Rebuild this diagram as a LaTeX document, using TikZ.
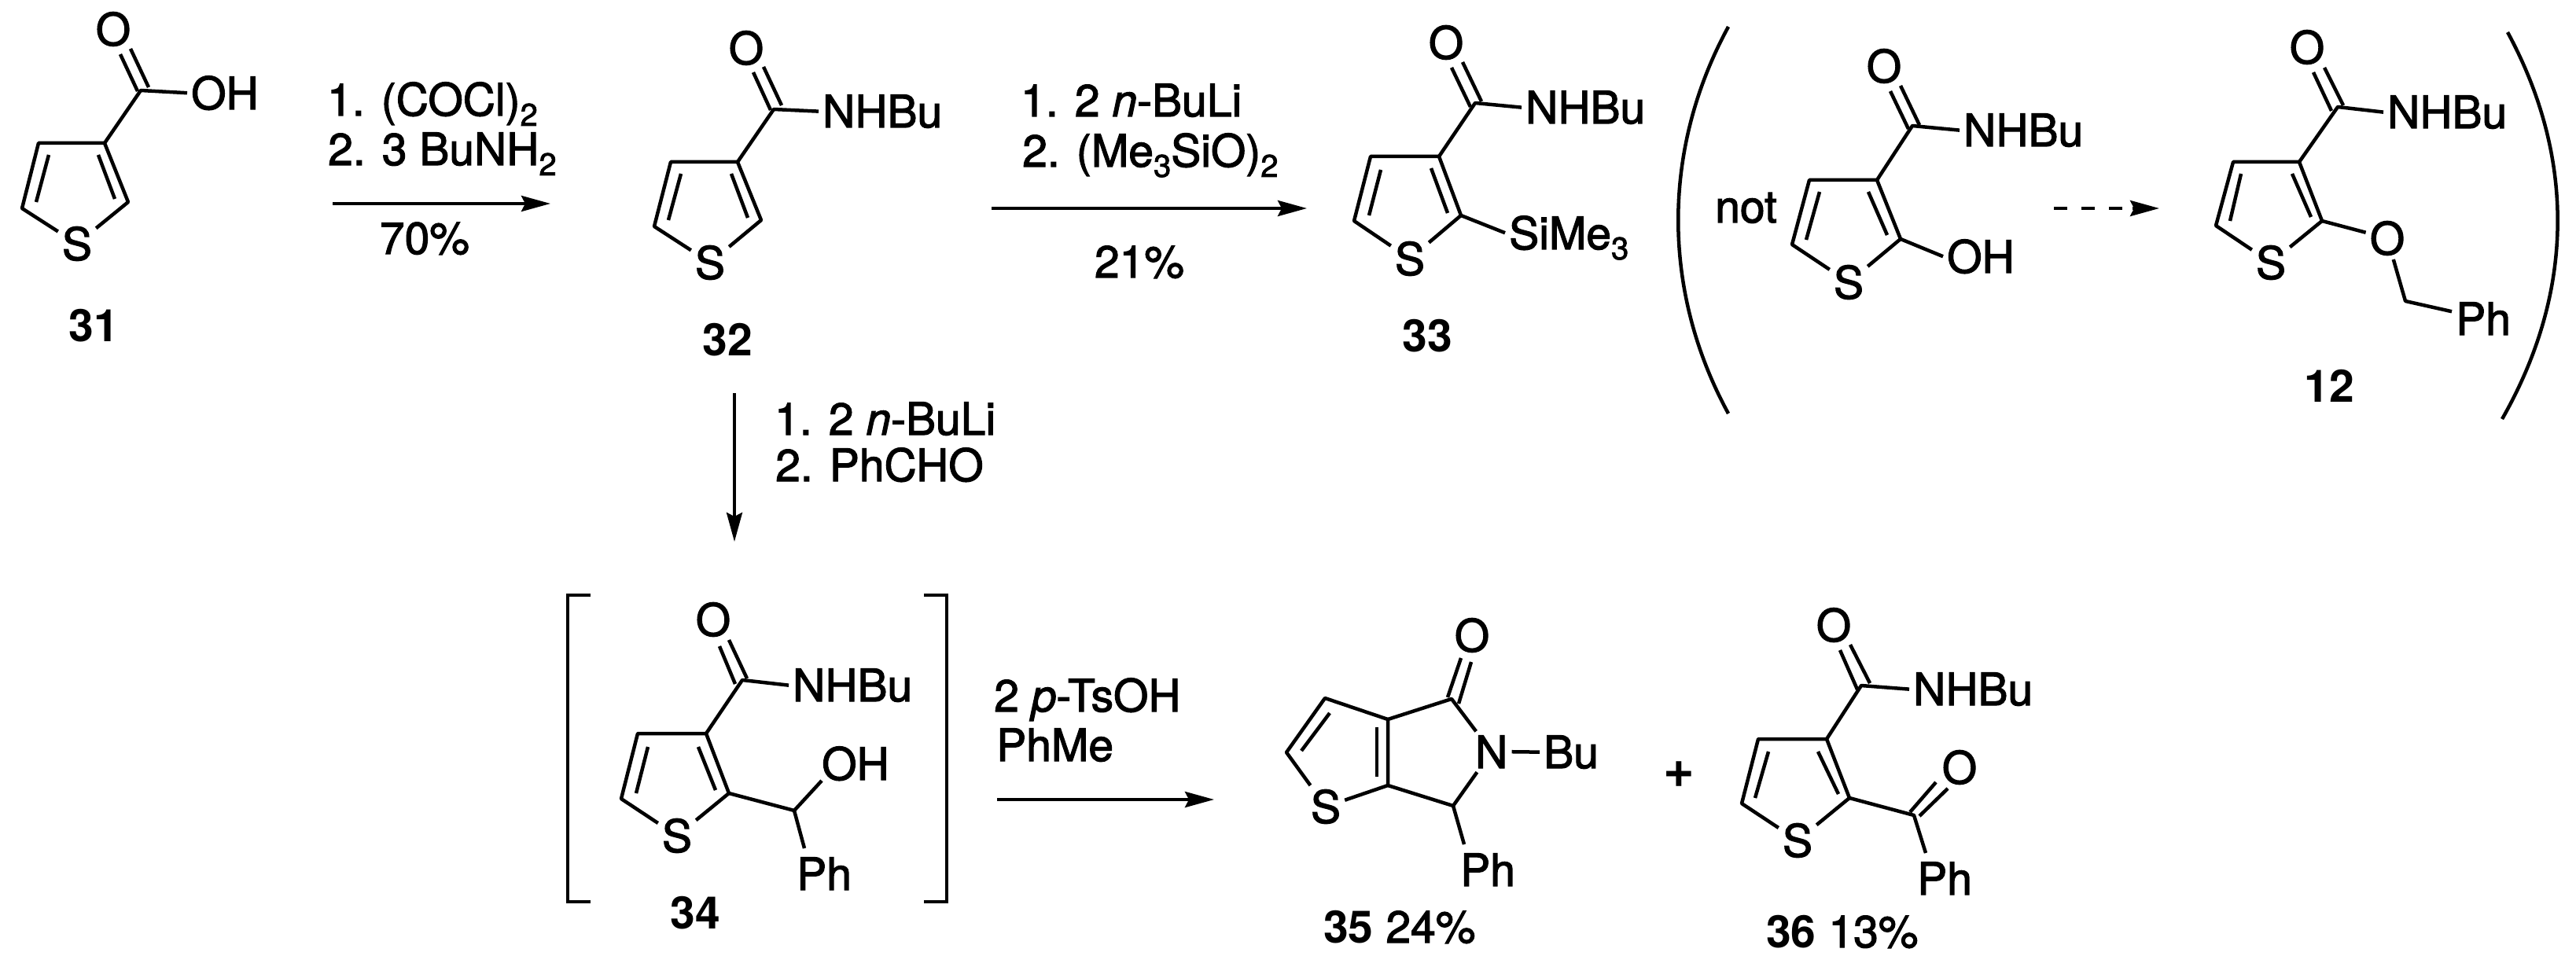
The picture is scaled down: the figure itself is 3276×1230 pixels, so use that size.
\documentclass[tikz,border=0pt]{standalone}
\usepackage{fontspec}
\setmainfont{TeX Gyre Heros}[UprightFeatures={FakeBold=2},ItalicFeatures={FakeBold=2}]
\usetikzlibrary{arrows.meta}
\newcommand\sbs[1]{\raisebox{-13pt}[0pt][0pt]{\fontsize{40}{40}\selectfont #1}}
% named point
\newcommand\pnt[3]{\coordinate (#1) at (#2,#3);}
% thiophene ring: coordinates p3 p4 p5 p2, inner bond ends pla plb pra prb, node pS
\newcommand\thio[1]{%
  \draw[bond] (#1S) -- (#15) -- (#14) -- (#13) -- (#12) -- (#1S);
  \draw[bond] (#1la) -- (#1lb);
  \draw[bond] (#1ra) -- (#1rb);}
\newcommand\dbl[2]{%
  \draw[bond] (#1a) -- (#1b);
  \draw[bond] (#1c) -- (#1d);}
\tikzset{
  x=1pt,y=-1pt,
  bond/.style={line width=4.5pt,line join=round,line cap=butt},
  arrowline/.style={line width=4pt,-{Stealth[length=37pt,width=20pt,inset=5pt]}},
  atom/.style={inner sep=5pt,anchor=center,font=\fontsize{57}{60}\selectfont},
  lbl/.style={inner sep=5pt,anchor=base west,font=\fontsize{57}{60}\selectfont},
  cpd/.style={inner sep=0pt,anchor=base,font=\fontsize{57}{60}\selectfont\bfseries},
}
\begin{document}
\begin{tikzpicture}
\useasboundingbox (0,0) rectangle (3276,1230);
% ---------- 31
\pnt{a3}{133}{182}\pnt{a4}{49}{182}\pnt{a5}{28}{265}\pnt{a2}{163}{257}
\pnt{ala}{62}{197}\pnt{alb}{46}{257}\pnt{ara}{125}{197}\pnt{arb}{146}{253}
\pnt{ac}{179}{115}
\pnt{aoa}{153}{69}\pnt{aob}{175}{116}\pnt{aoc}{166}{62}\pnt{aod}{189}{111}
\node[atom] (aS) at (98,310) {S};
\node[atom] (aO) at (144,37) {O};
\node[lbl] (aOH) at (238,139) {OH};
\node[cpd] (l31) at (119,434) {31};
\thio{a}\dbl{ao}{}
\draw[bond] (a3) -- (ac) -- (aOH.west);
% arrow 31->32
\pnt{r1s}{423}{259}\pnt{r1e}{700}{259}
\draw[arrowline] (r1s) -- (r1e);
\node[lbl] (r1t) at (411,147) {1. (COCl)\sbs{2}};
\node[lbl] (r1u) at (412,210) {2. 3 BuNH\sbs{2}};
\node[cpd,font=\fontsize{57}{60}\selectfont] (r1y) at (540,323) {70\%};
% ---------- 32
\pnt{b3}{938}{206}\pnt{b4}{853}{206}\pnt{b5}{832}{288}\pnt{b2}{968}{280}
\pnt{bla}{866}{221}\pnt{blb}{850}{280}\pnt{bra}{930}{221}\pnt{brb}{951}{277}
\pnt{bc}{984}{139}
\pnt{boa}{958}{92}\pnt{bob}{980}{140}\pnt{boc}{971}{85}\pnt{bod}{994}{134}
\node[atom] (bS) at (903,334) {S};
\node[atom] (bO) at (949,61) {O};
\node[lbl] (bNH) at (1041,162) {NHBu};
\node[cpd] (l32) at (925,452) {32};
\thio{b}\dbl{bo}{}
\draw[bond] (b3) -- (bc) -- (bNH.west);
% arrow 32->33
\pnt{r2s}{1261}{265}\pnt{r2e}{1662}{265}
\draw[arrowline] (r2s) -- (r2e);
\node[lbl] (r2t) at (1293,148) {1. 2 \textit{n}-BuLi};
\node[lbl] (r2u) at (1295,212) {2. (Me\sbs{3}SiO)\sbs{2}};
\node[cpd,font=\fontsize{57}{60}\selectfont] (r2y) at (1449,353) {21\%};
% ---------- 33
\pnt{c3}{1830}{199}\pnt{c4}{1743}{199}\pnt{c5}{1722}{281}\pnt{c2}{1858}{274}
\pnt{cla}{1756}{216}\pnt{clb}{1741}{274}\pnt{cra}{1820}{214}\pnt{crb}{1841}{271}
\pnt{cc}{1876}{131}
\pnt{coa}{1846}{86}\pnt{cob}{1870}{136}\pnt{coc}{1860}{79}\pnt{cod}{1884}{129}
\node[atom] (cS) at (1793,329) {S};
\node[atom] (cO) at (1839,54) {O};
\node[lbl] (cNH) at (1935,157) {NHBu};
\node[lbl] (cSi) at (1914,317) {SiMe\sbs{3}};
\node[cpd] (l33) at (1815,447) {33};
\thio{c}\dbl{co}{}
\draw[bond] (c3) -- (cc) -- (cNH.west);
\draw[bond] (c2) -- (cSi.west);
% ---------- parentheses
\pnt{pla}{2198}{34}\pnt{plb}{2113}{190}\pnt{plc}{2113}{370}\pnt{pld}{2198}{526}
\draw[bond] (pla) .. controls (plb) and (plc) .. (pld);
\pnt{qla}{3189}{41}\pnt{qlb}{3275}{200}\pnt{qlc}{3275}{370}\pnt{qld}{3182}{533}
\draw[bond] (qla) .. controls (qlb) and (qlc) .. (qld);
% ---------- not
\node[lbl] (nott) at (2176,283) {not};
\pnt{d3}{2387}{229}\pnt{d4}{2301}{229}\pnt{d5}{2279}{311}\pnt{d2}{2417}{304}
\pnt{dla}{2314}{244}\pnt{dlb}{2297}{305}\pnt{dra}{2376}{244}\pnt{drb}{2400}{299}
\pnt{dc}{2432}{160}
\pnt{doa}{2404}{116}\pnt{dob}{2427}{164}\pnt{doc}{2417}{109}\pnt{dod}{2441}{159}
\node[atom] (dS) at (2351,359) {S};
\node[atom] (dO) at (2396,84) {O};
\node[lbl] (dNH) at (2492,186) {NHBu};
\node[lbl] (dOH) at (2471,347) {OH};
\thio{d}\dbl{do}{}
\draw[bond] (d3) -- (dc) -- (dNH.west);
\draw[bond] (d2) -- (dOH.west);
% dashed arrow
\pnt{r3s}{2612}{265}\pnt{r3m}{2712}{265}\pnt{r3e}{2746}{265}
\draw[line width=4pt,dash pattern=on 17pt off 18pt] (r3s) -- (r3m);
\draw[line width=4pt,-{Stealth[length=37pt,width=20pt,inset=5pt]}] (r3m) -- (r3e);
% ---------- 12
\pnt{e3}{2924}{206}\pnt{e4}{2840}{206}\pnt{e5}{2818}{287}\pnt{e2}{2953}{281}
\pnt{ela}{2850}{221}\pnt{elb}{2836}{281}\pnt{era}{2915}{221}\pnt{erb}{2939}{276}
\pnt{ec}{2973}{136}
\pnt{eoa}{2942}{92}\pnt{eob}{2965}{141}\pnt{eoc}{2956}{86}\pnt{eod}{2980}{134}
\node[atom] (eS) at (2888,334) {S};
\node[atom] (eO) at (2934,60) {O};
\node[atom] (eL) at (3036,303) {O};
\node[lbl] (eNH) at (3031,163) {NHBu};
\node[lbl] (ePh) at (3118,426) {Ph};
\node[cpd] (l12) at (2962,511) {12};
\pnt{ech}{3059}{383}
\thio{e}\dbl{eo}{}
\draw[bond] (e3) -- (ec) -- (eNH.west);
\draw[bond] (e2) -- (eL) -- (ech) -- (ePh);
% ---------- vertical arrow
\pnt{r4s}{934}{500}\pnt{r4e}{934}{689}
\draw[arrowline] (r4s) -- (r4e);
\node[lbl] (r4t) at (980,553) {1. 2 \textit{n}-BuLi};
\node[lbl] (r4u) at (981,612) {2. PhCHO};
% ---------- 34 brackets
\pnt{ba}{751}{757}\pnt{bb}{722}{757}\pnt{bd}{722}{1147}\pnt{be}{751}{1147}
\draw[bond,line join=miter] (ba) -- (bb) -- (bd) -- (be);
\pnt{ka}{1175}{757}\pnt{kb}{1204}{757}\pnt{kd}{1204}{1147}\pnt{ke}{1175}{1147}
\draw[bond,line join=miter] (ka) -- (kb) -- (kd) -- (ke);
% ---------- 34
\pnt{f3}{898}{933}\pnt{f4}{811}{933}\pnt{f5}{790}{1016}\pnt{f2}{927}{1009}
\pnt{fla}{824}{950}\pnt{flb}{809}{1009}\pnt{fra}{888}{950}\pnt{frb}{910}{1005}
\pnt{fc}{944}{865}
\pnt{foa}{915}{822}\pnt{fob}{935}{870}\pnt{foc}{927}{814}\pnt{fod}{950}{863}
\node[atom] (fS) at (861,1063) {S};
\node[atom] (fO) at (907,788) {O};
\node[lbl] (fNH) at (1003,892) {NHBu};
\node[lbl] (fOH) at (1040,992) {OH};
\node[lbl] (fPh) at (1008,1132) {Ph};
\node[cpd] (l34) at (884,1181) {34};
\pnt{fch}{1010}{1031}\pnt{foe}{1045}{993}\pnt{fpe}{1023}{1079}
\thio{f}\dbl{fo}{}
\draw[bond] (f3) -- (fc) -- (fNH.west);
\draw[bond] (f2) -- (fch) -- (foe);
\draw[bond] (fch) -- (fpe);
% arrow 34->35
\pnt{r5s}{1268}{1017}\pnt{r5e}{1544}{1017}
\draw[arrowline] (r5s) -- (r5e);
\node[lbl] (r5t) at (1259,905) {2 \textit{p}-TsOH};
\node[lbl] (r5u) at (1262,968) {PhMe};
% ---------- 35
\pnt{g3a}{1765}{915}\pnt{g7}{1685}{888}\pnt{g6}{1636}{957}\pnt{g6a}{1765}{999}
\pnt{gc}{1846}{889}\pnt{gch}{1848}{1025}
\pnt{gia}{1751}{925}\pnt{gib}{1751}{988}\pnt{gja}{1691}{907}\pnt{gjb}{1655}{955}
\pnt{goa}{1858}{837}\pnt{gob}{1841}{887}\pnt{goc}{1871}{842}\pnt{god}{1855}{895}
\pnt{gpe}{1862}{1074}
\node[atom] (gS) at (1686,1026) {S};
\node[atom] (gO) at (1872,808) {O};
\node[lbl] (gN) at (1871,977) {N};
\node[lbl] (gBu) at (1958,977) {Bu};
\node[lbl] (gPh) at (1852,1127) {Ph};
\draw[bond] (gS) -- (g6) -- (g7) -- (g3a) -- (g6a) -- (gS);
\draw[bond] (g3a) -- (gc) -- (gN);
\draw[bond] (g6a) -- (gch) -- (gN);
\draw[bond] (gch) -- (gpe);
\draw[bond] (gia) -- (gib);
\draw[bond] (gja) -- (gjb);
\dbl{go}{}
\draw[bond] (gN.east) -- (gBu.west);
\node[lbl,inner sep=0pt] (l35) at (1683,1199) {\textbf{35} 24\%};
% plus
\node[atom,font=\fontsize{68}{70}\selectfont\bfseries] (plus) at (2135,985) {+};
% ---------- 36
\pnt{h3}{2323}{940}\pnt{h4}{2236}{940}\pnt{h5}{2215}{1022}\pnt{h2}{2352}{1015}
\pnt{hla}{2249}{956}\pnt{hlb}{2232}{1015}\pnt{hra}{2312}{956}\pnt{hrb}{2338}{1010}
\pnt{hc}{2367}{872}
\pnt{hoa}{2340}{827}\pnt{hob}{2362}{877}\pnt{hoc}{2353}{820}\pnt{hod}{2378}{869}
\pnt{hk}{2434}{1037}\pnt{hpe}{2449}{1085}
\pnt{hqa}{2429}{1033}\pnt{hqb}{2462}{995}\pnt{hqc}{2441}{1038}\pnt{hqd}{2477}{1003}
\node[atom] (hS) at (2286,1069) {S};
\node[atom] (hO) at (2332,795) {O};
\node[atom] (hK) at (2492,976) {O};
\node[lbl] (hNH) at (2428,897) {NHBu};
\node[lbl] (hPh) at (2433,1138) {Ph};
\thio{h}\dbl{ho}{}\dbl{hq}{}
\draw[bond] (h3) -- (hc) -- (hNH.west);
\draw[bond] (h2) -- (hk) -- (hpe);
\node[lbl,inner sep=0pt] (l36) at (2246,1205) {\textbf{36} 13\%};
\end{tikzpicture}
\end{document}
